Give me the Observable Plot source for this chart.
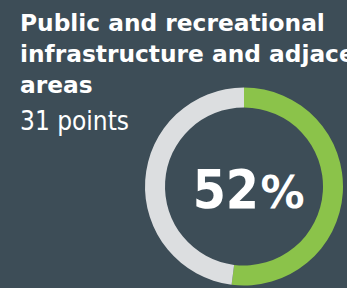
<!DOCTYPE html>
<html>
<head>
<meta charset="utf-8">
<script src="https://cdn.jsdelivr.net/npm/d3@7"></script>
<script src="https://cdn.jsdelivr.net/npm/@observablehq/plot@0.6"></script>
<style>
  html, body { margin: 0; padding: 0; background: #3d4d57; overflow: hidden; }
  #wrap { position: relative; width: 347px; height: 288px; overflow: hidden; background: #3d4d57; }
  #title { position: absolute; left: 20px; top: 7px; color: #fff; font-family: "DejaVu Sans", sans-serif;
           font-weight: bold; font-size: 23.3px; line-height: 31px; white-space: nowrap; z-index: 2; }
  #subtitle { position: absolute; left: 20px; top: 106px; color: #fff; font-family: "DejaVu Sans Condensed", "DejaVu Sans", sans-serif;
              font-stretch: condensed; font-size: 26px; line-height: 31px; white-space: nowrap; z-index: 2; }
  #chart { position: absolute; left: 0; top: 0; }
</style>
</head>
<body>
<div id="wrap">
  <div id="chart"></div>
  <div id="title"></div>
  <div id="subtitle"></div>
</div>
<script>
const titleLines = ["Public and recreational", "infrastructure and adjacent", "areas"];
const subtitle = "31 points";
const categories = ["Achieved", "Remaining"];
const values = [52, 48];
const colors = ["#8bc34a", "#dcdee0"];
const centerValue = "52";
const centerUnit = "%";

document.getElementById("title").innerHTML = titleLines.join("<br>");
document.getElementById("subtitle").textContent = subtitle;

const data = categories.map((c, i) => ({category: c, value: values[i]}));
const color = d3.scaleOrdinal(categories, colors);

function donut(index, scales, vals, dims) {
  const {width, height, marginLeft, marginRight, marginTop, marginBottom} = dims;
  const fw = width - marginLeft - marginRight;
  const fh = height - marginTop - marginBottom;
  const cx = marginLeft + fw / 2;
  const cy = marginTop + fh / 2;
  const r = Math.min(fw, fh) / 2;
  const pie = d3.pie().sort(null).value(d => d.value)(data);
  const arc = d3.arc().innerRadius(r * 0.798).outerRadius(r);
  const g = d3.create("svg:g").attr("transform", `translate(${cx},${cy})`);
  g.selectAll("path").data(pie).join("path")
    .attr("d", arc)
    .attr("fill", d => color(d.data.category));
  return g.node();
}

const chart = Plot.plot({
  width: 347,
  height: 288,
  marginLeft: 145,
  marginRight: 4,
  marginTop: 87.5,
  marginBottom: 2.5,
  style: {background: "transparent", overflow: "visible"},
  marks: [
    donut,
    Plot.text([centerValue], {
      frameAnchor: "middle", text: d => d, textAnchor: "end", lineAnchor: "bottom",
      dx: 14.5, dy: 21, fill: "#ffffff", fontSize: 53, fontWeight: "bold",
      fontFamily: "DejaVu Sans Condensed, DejaVu Sans, sans-serif", fontStretch: "condensed"
    }),
    Plot.text([centerUnit], {
      frameAnchor: "middle", text: d => d, textAnchor: "start", lineAnchor: "bottom",
      dx: 16, dy: 21, fill: "#ffffff", fontSize: 44, fontWeight: "bold",
      fontFamily: "DejaVu Sans, sans-serif"
    })
  ]
});
document.getElementById("chart").appendChild(chart);
</script>
</body>
</html>
